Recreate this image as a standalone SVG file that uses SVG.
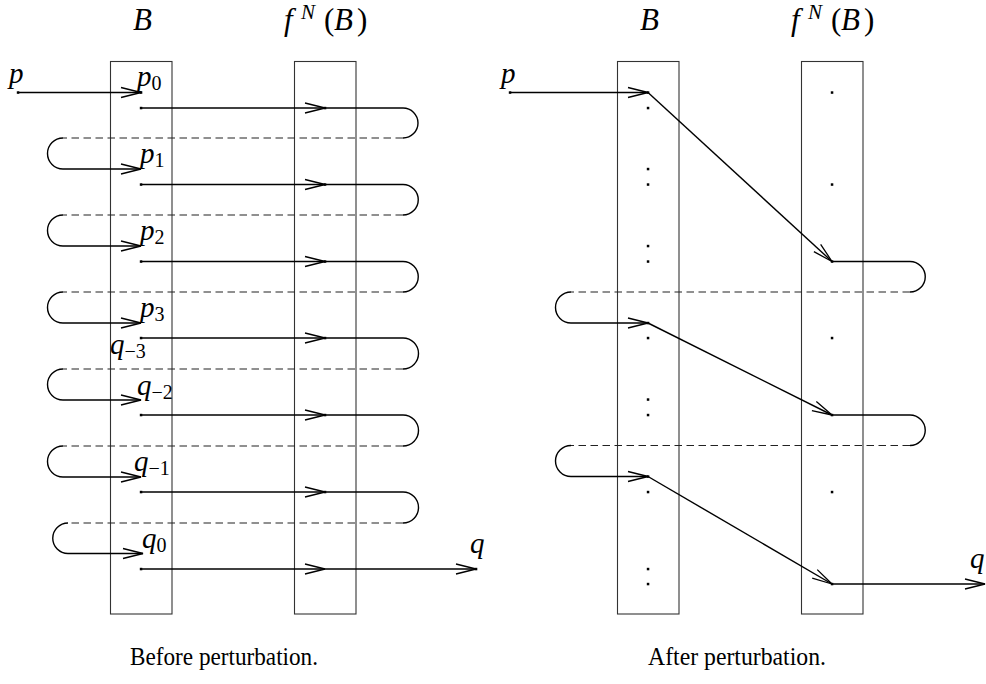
<svg xmlns="http://www.w3.org/2000/svg" width="986" height="684" viewBox="0 0 986 684">
<defs>
<marker id="ah" viewBox="-22 -7 24 14" refX="0" refY="0" markerWidth="24" markerHeight="14" markerUnits="userSpaceOnUse" orient="auto">
<path d="M-20,-5 L0,0 L-20,5" fill="none" stroke="#000" stroke-width="1.3"/>
</marker>
<style>
.box{fill:none;stroke:#333;stroke-width:1.1}
.ln{fill:none;stroke:#000;stroke-width:1.4}
.ar{fill:none;stroke:#000;stroke-width:1.4;marker-end:url(#ah)}
.ds{fill:none;stroke:#222;stroke-width:1.2;stroke-dasharray:7.5 4.5}
.dot{fill:#000}
.big{font-family:"Liberation Serif",serif;font-style:italic;font-size:31px;fill:#000}
.up{font-family:"Liberation Serif",serif;font-size:31px;fill:#000}
.sup{font-family:"Liberation Serif",serif;font-style:italic;font-size:21px;fill:#000}
.m{font-family:"Liberation Serif",serif;font-style:italic;font-size:29px;fill:#000}
.sub{font-style:normal;font-size:20px}
.cap{font-family:"Liberation Serif",serif;font-size:25px;fill:#000}
</style>
</defs>

<g id="left-B">
<rect class="box" x="110.5" y="61.5" width="61.5" height="552.5"/>
<text class="big" x="133" y="30">B</text>
</g>
<g id="left-F">
<rect class="box" x="294.5" y="61.5" width="61.5" height="552.5"/>
<text class="big" x="284" y="30">f</text><text class="sup" x="301" y="19">N</text><text class="up" x="324" y="30">(</text><text class="big" x="334" y="30">B</text><text class="up" x="357" y="30">)</text>
</g>
<g id="right-B">
<rect class="box" x="617.5" y="61.5" width="61.5" height="552.5"/>
<text class="big" x="640" y="30">B</text>
</g>
<g id="right-F">
<rect class="box" x="801.5" y="61.5" width="61.5" height="552.5"/>
<text class="big" x="791" y="30">f</text><text class="sup" x="808" y="19">N</text><text class="up" x="831" y="30">(</text><text class="big" x="841" y="30">B</text><text class="up" x="864" y="30">)</text>
</g>

<g id="left-labels">
<text class="m" x="9" y="83">p</text>
<text class="m" x="137" y="86">p<tspan class="sub" dy="4">0</tspan></text>
<text class="m" x="140" y="163">p<tspan class="sub" dy="4">1</tspan></text>
<text class="m" x="140" y="240">p<tspan class="sub" dy="4">2</tspan></text>
<text class="m" x="140" y="317">p<tspan class="sub" dy="4">3</tspan></text>
<text class="m" x="110" y="354">q<tspan class="sub" dy="4">−3</tspan></text>
<text class="m" x="137" y="395">q<tspan class="sub" dy="4">−2</tspan></text>
<text class="m" x="134" y="471">q<tspan class="sub" dy="4">−1</tspan></text>
<text class="m" x="142" y="548">q<tspan class="sub" dy="4">0</tspan></text>
<text class="m" x="470" y="553">q</text>
</g>
<g id="right-labels">
<text class="m" x="501" y="83">p</text>
<text class="m" x="970" y="568">q</text>
</g>

<g id="connectors">
<path class="ar" d="M18,92.5 H141"/>
<path class="ar" d="M141,108 H325"/><path class="ln" d="M325,108 H403 A15,15 0 0 1 403,138"/>
<path class="ds" d="M403,138 H63"/><path class="ar" d="M63,138 A15.5,15.5 0 0 0 63,169 H141"/>
<path class="ar" d="M141,184.5 H325"/><path class="ln" d="M325,184.5 H403 A15.25,15.25 0 0 1 403,215"/>
<path class="ds" d="M403,215 H63"/><path class="ar" d="M63,215 A15.5,15.5 0 0 0 63,246 H141"/>
<path class="ar" d="M141,261.5 H325"/><path class="ln" d="M325,261.5 H403 A15.25,15.25 0 0 1 403,292"/>
<path class="ds" d="M403,292 H63"/><path class="ar" d="M63,292 A15.5,15.5 0 0 0 63,323 H141"/>
<path class="ar" d="M141,338 H325"/><path class="ln" d="M325,338 H403 A15.5,15.5 0 0 1 403,369"/>
<path class="ds" d="M403,369 H63"/><path class="ar" d="M63,369 A15.5,15.5 0 0 0 63,400 H141"/>
<path class="ar" d="M141,415 H325"/><path class="ln" d="M325,415 H403 A15.5,15.5 0 0 1 403,446"/>
<path class="ds" d="M403,446 H63"/><path class="ar" d="M63,446 A15.5,15.5 0 0 0 63,477 H141"/>
<path class="ar" d="M141,492 H325"/><path class="ln" d="M325,492 H403 A15.5,15.5 0 0 1 403,523"/>
<path class="ds" d="M403,523 H68"/><path class="ar" d="M68,523 A15.25,15.25 0 0 0 68,553.5 H143"/>
<path class="ar" d="M141,569 H325"/><path class="ar" d="M325,569 H476"/>
<path class="ar" d="M510,92.5 H648"/>
<path class="ar" d="M648,92.5 L832,261.5"/>
<path class="ln" d="M832,261.5 H910 A15.25,15.25 0 0 1 910,292"/>
<path class="ds" d="M910,292 H571"/><path class="ar" d="M571,292 A15.5,15.5 0 0 0 571,323 H648"/>
<path class="ar" d="M648,323 L832,415"/>
<path class="ln" d="M832,415 H910 A15.25,15.25 0 0 1 910,445.5"/>
<path class="ds" d="M910,445.5 H571"/><path class="ar" d="M571,445.5 A15.5,15.5 0 0 0 571,476.5 H648"/>
<path class="ar" d="M648,476.5 L832,584"/>
<path class="ar" d="M832,584 H985"/>
</g>

<g id="points">
<rect class="dot" x="16.8" y="91.3" width="2.5" height="2.5"/>
<rect class="dot" x="139.8" y="91.3" width="2.5" height="2.5"/>
<rect class="dot" x="139.8" y="106.8" width="2.5" height="2.5"/>
<rect class="dot" x="139.8" y="183.3" width="2.5" height="2.5"/>
<rect class="dot" x="139.8" y="260.3" width="2.5" height="2.5"/>
<rect class="dot" x="139.8" y="336.8" width="2.5" height="2.5"/>
<rect class="dot" x="139.8" y="413.8" width="2.5" height="2.5"/>
<rect class="dot" x="139.8" y="490.8" width="2.5" height="2.5"/>
<rect class="dot" x="139.8" y="567.8" width="2.5" height="2.5"/>
<rect class="dot" x="323.8" y="106.8" width="2.5" height="2.5"/>
<rect class="dot" x="323.8" y="183.3" width="2.5" height="2.5"/>
<rect class="dot" x="323.8" y="260.3" width="2.5" height="2.5"/>
<rect class="dot" x="323.8" y="336.8" width="2.5" height="2.5"/>
<rect class="dot" x="323.8" y="413.8" width="2.5" height="2.5"/>
<rect class="dot" x="323.8" y="490.8" width="2.5" height="2.5"/>
<rect class="dot" x="474.8" y="567.8" width="2.5" height="2.5"/>
<rect class="dot" x="508.8" y="91.3" width="2.5" height="2.5"/>
<rect class="dot" x="646.8" y="91.3" width="2.5" height="2.5"/>
<rect class="dot" x="646.8" y="106.8" width="2.5" height="2.5"/>
<rect class="dot" x="646.8" y="167.8" width="2.5" height="2.5"/>
<rect class="dot" x="646.8" y="183.3" width="2.5" height="2.5"/>
<rect class="dot" x="646.8" y="244.8" width="2.5" height="2.5"/>
<rect class="dot" x="646.8" y="260.3" width="2.5" height="2.5"/>
<rect class="dot" x="646.8" y="321.8" width="2.5" height="2.5"/>
<rect class="dot" x="646.8" y="336.8" width="2.5" height="2.5"/>
<rect class="dot" x="646.8" y="398.3" width="2.5" height="2.5"/>
<rect class="dot" x="646.8" y="413.8" width="2.5" height="2.5"/>
<rect class="dot" x="646.8" y="475.3" width="2.5" height="2.5"/>
<rect class="dot" x="646.8" y="490.8" width="2.5" height="2.5"/>
<rect class="dot" x="646.8" y="567.8" width="2.5" height="2.5"/>
<rect class="dot" x="646.8" y="582.8" width="2.5" height="2.5"/>
<rect class="dot" x="830.8" y="91.3" width="2.5" height="2.5"/>
<rect class="dot" x="830.8" y="183.3" width="2.5" height="2.5"/>
<rect class="dot" x="830.8" y="260.3" width="2.5" height="2.5"/>
<rect class="dot" x="830.8" y="336.8" width="2.5" height="2.5"/>
<rect class="dot" x="830.8" y="413.8" width="2.5" height="2.5"/>
<rect class="dot" x="830.8" y="490.8" width="2.5" height="2.5"/>
<rect class="dot" x="830.8" y="582.8" width="2.5" height="2.5"/>
</g>

<g id="captions">
<text class="cap" x="130" y="665" textLength="188" lengthAdjust="spacingAndGlyphs">Before perturbation.</text>
<text class="cap" x="648" y="665" textLength="178" lengthAdjust="spacingAndGlyphs">After perturbation.</text>
</g>
</svg>
